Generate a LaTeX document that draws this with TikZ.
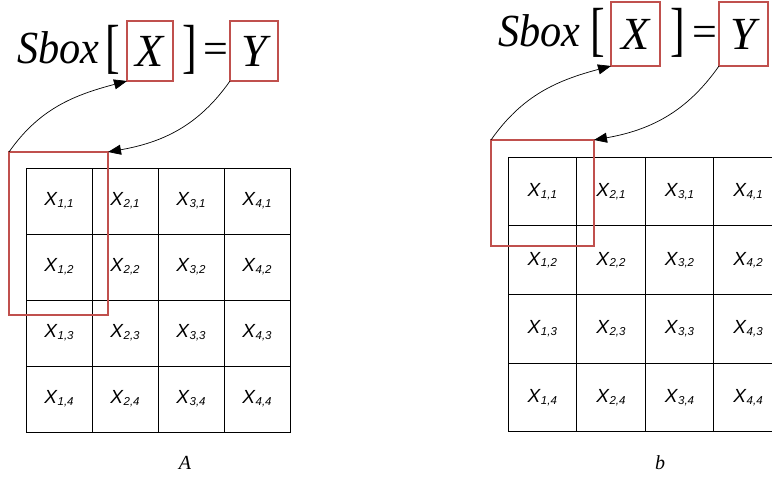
\documentclass[tikz,border=0pt]{standalone}
\usepackage{fontspec}
\setmainfont{Liberation Serif}
\newfontfamily\cellfont{Liberation Sans}
\usepackage{xcolor}
\usetikzlibrary{arrows.meta,positioning}
\definecolor{selred}{RGB}{192,80,77}
\newcommand{\xsub}[2]{\textit{X}\raisebox{-0.1em}{\fontsize{11.5}{11.5}\selectfont\itshape #1,#2}}

\begin{document}
\begin{tikzpicture}[x=1pt,y=1pt,>={Triangle[length=13pt,width=10pt]},
  every node/.style={inner sep=0pt,outer sep=0pt},
  cell/.style={draw,line width=0.8pt,minimum size=66pt,font=\cellfont\fontsize{19}{19}\selectfont},
  cellb/.style={cell,minimum size=68.6pt},
  sel/.style={draw=selred,line width=2.8pt},
  eq/.style={font=\fontsize{46}{46}\selectfont\itshape},
  brk/.style={font=\fontsize{44}{44}\selectfont,yscale=1.35},
  lbl/.style={font=\fontsize{20}{20}\selectfont\itshape},
  link/.style={->,line width=0.7pt}]
\useasboundingbox (0,0) rectangle (772,480);
\clip (0,0) rectangle (772,480);

% state A: column selected
\foreach \i in {1,...,4}
  \foreach \j in {1,...,4}
    \node (a\i\j) [cell] at (26+66*\i-33,312-66*\j+33) {\xsub{\i}{\j}};
\node (selA) [sel,minimum width=99pt,minimum height=163pt] at (58.5,246.5) {};

\node (sboxA) [eq,anchor=base west,xscale=0.92] at (17,416) {Sbox};
\node (lbA) [brk,anchor=base] at (112.5,413) {[};
\node (xA) [sel,eq,minimum width=46pt,minimum height=60pt] at (150,429) {X};
\node (rbA) [brk,anchor=base] at (190,413) {]};
\node (eqA) [eq,font=\fontsize{44}{44}\selectfont,anchor=base] at (216,416) {=};
\node (yA) [sel,eq,minimum width=48pt,minimum height=60pt] at (254,429) {Y};
\draw[link] (selA.north west) to[out=55,in=195] (xA.south west);
\draw[link] (yA.south west) to[out=-125,in=10] (selA.north east);
\node (capA) [lbl] at (185,17) {A};

% state b: single cell selected
\foreach \i in {1,...,4}
  \foreach \j in {1,...,4}
    \node (b\i\j) [cellb] at (508+68.6*\i-34.3,322.7-68.6*\j+34.3) {\xsub{\i}{\j}};
\node (selB) [sel,minimum width=103pt,minimum height=106pt] at (542.5,287) {};

\node (sboxB) [eq,anchor=base west,xscale=0.92] at (498,433) {Sbox};
\node (lbB) [brk,anchor=base] at (597.5,430) {[};
\node (xB) [sel,eq,minimum width=49pt,minimum height=64pt] at (635.5,446) {X};
\node (rbB) [brk,anchor=base] at (677.5,430) {]};
\node (eqB) [eq,font=\fontsize{44}{44}\selectfont,anchor=base] at (705,433) {=};
\node (yB) [sel,eq,minimum width=49pt,minimum height=64pt] at (743.5,446) {Y};
\draw[link] (selB.north west) to[out=55,in=195] (xB.south west);
\draw[link] (yB.south west) to[out=-125,in=10] (selB.north east);
\node (capB) [lbl] at (660,17) {b};
\end{tikzpicture}
\end{document}
